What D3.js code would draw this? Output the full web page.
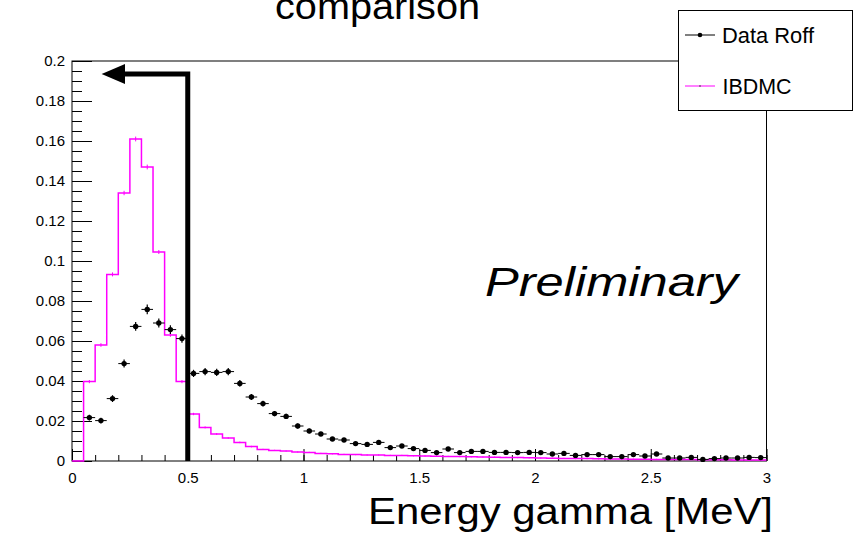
<!DOCTYPE html>
<html>
<head>
<meta charset="utf-8">
<script src="https://cdn.jsdelivr.net/npm/d3@7"></script>
<style>
  body { margin: 0; background: #fff; }
  svg { display: block; }
  text { font-family: "Liberation Sans", Arial, Helvetica, sans-serif; fill: #000; }
</style>
</head>
<body>
<svg id="chart"></svg>
<script>
// histogram binning: 60 bins of 0.05 MeV from 0 to 3
const binLow = 0;
const binWidth = 0.05;

// Data Roff (normalised), one value per bin; null = empty bin
const dataRoff = [
  null, 0.0217, 0.0202, 0.0312, 0.0487, 0.0673, 0.0758, 0.0690, 0.0657, 0.0612,
  0.0438, 0.0447, 0.0443, 0.0447, 0.0388, 0.0320, 0.0287, 0.0237, 0.0223, 0.0175,
  0.0150, 0.0135, 0.0110, 0.0105, 0.0087, 0.0083, 0.0093, 0.0067, 0.0075, 0.0062,
  0.0053, 0.0042, 0.0060, 0.0042, 0.0048, 0.0048, 0.0043, 0.0043, 0.0042, 0.0043,
  0.0042, 0.0035, 0.0038, 0.0028, 0.0032, 0.0032, 0.0022, 0.0022, 0.0032, 0.0025,
  0.0035, 0.0015, 0.0015, 0.0018, 0.0008, 0.0012, 0.0015, 0.0015, 0.0018, 0.0017
];
const dataErr = [
  0, 0.0014, 0.0014, 0.0017, 0.0020, 0.0022, 0.0024, 0.0022, 0.0022, 0.0021,
  0.0018, 0.0018, 0.0018, 0.0018, 0.0017, 0.0015, 0.0014, 0.0013, 0.0013, 0.0012,
  0.0011, 0.0010, 0.0009, 0.0009, 0.0008, 0.0008, 0.0008, 0.0007, 0.0007, 0.0007,
  0.0006, 0.0006, 0.0006, 0.0006, 0.0006, 0.0006, 0.0006, 0.0006, 0.0006, 0.0006,
  0.0006, 0.0005, 0.0005, 0.0005, 0.0005, 0.0005, 0.0004, 0.0004, 0.0005, 0.0004,
  0.0005, 0.0004, 0.0004, 0.0004, 0.0003, 0.0003, 0.0004, 0.0004, 0.0004, 0.0004
];

// IBD Monte Carlo (normalised)
const ibdmc = [
  0.0000, 0.0397, 0.0580, 0.0933, 0.1340, 0.1610, 0.1470, 0.1045, 0.0630, 0.0397,
  0.0235, 0.0168, 0.0135, 0.0115, 0.0093, 0.0072, 0.0058, 0.0053, 0.0050, 0.0045,
  0.0043, 0.0038, 0.0036, 0.0033, 0.0032, 0.0030, 0.0030, 0.0028, 0.0028, 0.0026,
  0.0025, 0.0024, 0.0023, 0.0022, 0.0021, 0.0020, 0.0019, 0.0018, 0.0017, 0.0016,
  0.0015, 0.0014, 0.0013, 0.0012, 0.0012, 0.0011, 0.0010, 0.0010, 0.0009, 0.0009,
  0.0008, 0.0008, 0.0007, 0.0007, 0.0006, 0.0006, 0.0006, 0.0005, 0.0005, 0.0005
];
const ibdmcErr = [
  0, 0.0008, 0.0009, 0.0010, 0.0011, 0.0012, 0.0012, 0.0010, 0.0009, 0.0008,
  0.0006, 0.0005, 0.0005, 0.0004, 0.0004, 0.0004, 0.0003, 0.0003, 0.0003, 0.0003,
  0.0003, 0.0003, 0.0003, 0.0003, 0.0003, 0.0003, 0.0003, 0.0003, 0.0003, 0.0003,
  0.0003, 0.0003, 0.0003, 0.0003, 0.0003, 0.0003, 0.0003, 0.0003, 0.0003, 0.0003,
  0.0003, 0.0003, 0.0003, 0.0003, 0.0003, 0.0003, 0.0003, 0.0003, 0.0003, 0.0003,
  0.0003, 0.0003, 0.0003, 0.0003, 0.0003, 0.0003, 0.0003, 0.0003, 0.0003, 0.0003
];

const xTicks = [0, 0.5, 1, 1.5, 2, 2.5, 3];
const xTickLabels = ["0", "0.5", "1", "1.5", "2", "2.5", "3"];
const xMinorTicks = d3.range(0, 31).map(i => i / 10);
const yTicks = [0, 0.02, 0.04, 0.06, 0.08, 0.1, 0.12, 0.14, 0.16, 0.18, 0.2];
const yTickLabels = ["0", "0.02", "0.04", "0.06", "0.08", "0.1", "0.12", "0.14", "0.16", "0.18", "0.2"];
const yMinorTicks = d3.range(0, 41).map(i => i * 0.005);

// cut marker: energy threshold and arrow pointing to lower energies
const cutEnergy = 0.5;
const cutArrowLevel = 0.1935;
const cutArrowShaft = 0.229;
const cutArrowTip = 0.128;

const width = 861, height = 534;
const margin = { left: 72, right: 94.5, top: 61, bottom: 73 };
const magenta = '#ff00ff';

const svg = d3.select('#chart').attr('width', width).attr('height', height);

const x = d3.scaleLinear().domain([0, 3]).range([margin.left, width - margin.right]);
const y = d3.scaleLinear().domain([0, 0.2]).range([height - margin.bottom, margin.top]);

// frame
svg.append('rect')
  .attr('x', x(0)).attr('y', y(0.2))
  .attr('width', x(3) - x(0)).attr('height', y(0) - y(0.2))
  .attr('fill', 'none').attr('stroke', '#000').attr('stroke-width', 1);

// minor ticks
svg.append('g')
  .attr('transform', `translate(0,${y(0)})`)
  .call(d3.axisBottom(x).tickValues(xMinorTicks).tickSize(-6).tickFormat(''))
  .call(g => g.select('.domain').remove());
svg.append('g')
  .attr('transform', `translate(${x(0)},0)`)
  .call(d3.axisLeft(y).tickValues(yMinorTicks).tickSize(-10).tickFormat(''))
  .call(g => g.select('.domain').remove());

// major ticks + labels
const xAxis = svg.append('g')
  .attr('transform', `translate(0,${y(0)})`)
  .call(d3.axisBottom(x).tickValues(xTicks).tickSize(-12).tickPadding(11)
    .tickFormat((d, i) => xTickLabels[i]));
xAxis.select('.domain').remove();
xAxis.selectAll('text').style('font-size', '15px').attr('fill', '#000');

const yAxis = svg.append('g')
  .attr('transform', `translate(${x(0)},0)`)
  .call(d3.axisLeft(y).tickValues(yTicks).tickSize(-20).tickPadding(7)
    .tickFormat((d, i) => yTickLabels[i]));
yAxis.select('.domain').remove();
yAxis.selectAll('text').style('font-size', '15px').attr('fill', '#000');
svg.selectAll('.tick line').attr('stroke', '#000');

// IBDMC step histogram
const stepPts = [];
ibdmc.forEach((v, i) => {
  const lo = binLow + i * binWidth;
  stepPts.push([lo, v], [lo + binWidth, v]);
});
const line = d3.line().x(d => x(d[0])).y(d => y(d[1]));
svg.append('path')
  .attr('d', line(stepPts))
  .attr('fill', 'none').attr('stroke', magenta).attr('stroke-width', 1.5);

svg.append('g').selectAll('line')
  .data(ibdmc.map((v, i) => ({ v, e: ibdmcErr[i], c: binLow + (i + 0.5) * binWidth })).filter(d => d.v > 0))
  .enter().append('line')
  .attr('x1', d => x(d.c)).attr('x2', d => x(d.c))
  .attr('y1', d => y(d.v - d.e)).attr('y2', d => y(d.v + d.e))
  .attr('stroke', magenta).attr('stroke-width', 1);

// Data Roff points with error bars
const pts = dataRoff.map((v, i) => ({ v, e: dataErr[i], lo: binLow + i * binWidth }))
  .filter(d => d.v !== null);
const pg = svg.append('g');
pg.selectAll('.hbar').data(pts).enter().append('line')
  .attr('x1', d => x(d.lo)).attr('x2', d => x(d.lo + binWidth))
  .attr('y1', d => y(d.v)).attr('y2', d => y(d.v))
  .attr('stroke', '#000').attr('stroke-width', 1);
pg.selectAll('.vbar').data(pts).enter().append('line')
  .attr('x1', d => x(d.lo + binWidth / 2)).attr('x2', d => x(d.lo + binWidth / 2))
  .attr('y1', d => y(d.v - d.e)).attr('y2', d => y(d.v + d.e))
  .attr('stroke', '#000').attr('stroke-width', 1.2);
pg.selectAll('circle').data(pts).enter().append('circle')
  .attr('cx', d => x(d.lo + binWidth / 2)).attr('cy', d => y(d.v))
  .attr('r', 2.7).attr('fill', '#000');

// cut arrow
svg.append('path')
  .attr('d', `M${x(cutEnergy)},${y(0)} L${x(cutEnergy)},${y(cutArrowLevel)} L${x(cutArrowShaft)},${y(cutArrowLevel)}`)
  .attr('fill', 'none').attr('stroke', '#000').attr('stroke-width', 5)
  .attr('stroke-linejoin', 'miter');
svg.append('path')
  .attr('d', `M${x(cutArrowTip)},${y(cutArrowLevel)} L${x(cutArrowShaft)},${y(cutArrowLevel) - 10} L${x(cutArrowShaft)},${y(cutArrowLevel) + 10} Z`)
  .attr('fill', '#000');

// texts
svg.append('text')
  .attr('x', 275).attr('y', 19)
  .attr('textLength', 205).attr('lengthAdjust', 'spacingAndGlyphs')
  .style('font-size', '36px').text('comparison');

svg.append('text')
  .attr('x', 485).attr('y', 296)
  .attr('textLength', 253).attr('lengthAdjust', 'spacingAndGlyphs')
  .style('font-size', '40px').style('font-style', 'italic').text('Preliminary');

svg.append('text')
  .attr('x', 368).attr('y', 524)
  .attr('textLength', 405).attr('lengthAdjust', 'spacingAndGlyphs')
  .style('font-size', '36px').text('Energy gamma [MeV]');

// legend
const lg = svg.append('g');
lg.append('rect')
  .attr('x', 678.5).attr('y', 10.5).attr('width', 174).attr('height', 100)
  .attr('fill', '#fff').attr('stroke', '#000').attr('stroke-width', 1);
lg.append('line').attr('x1', 685).attr('x2', 715).attr('y1', 35).attr('y2', 35)
  .attr('stroke', '#000').attr('stroke-width', 1);
lg.append('circle').attr('cx', 700).attr('cy', 35).attr('r', 2.3).attr('fill', '#000');
lg.append('text').attr('x', 722).attr('y', 43)
  .attr('textLength', 92).attr('lengthAdjust', 'spacingAndGlyphs')
  .style('font-size', '22px').text('Data Roff');
lg.append('line').attr('x1', 685).attr('x2', 715).attr('y1', 86).attr('y2', 86)
  .attr('stroke', magenta).attr('stroke-width', 1);
lg.append('circle').attr('cx', 700).attr('cy', 86).attr('r', 0.8).attr('fill', '#333');
lg.append('text').attr('x', 722.5).attr('y', 93.5)
  .attr('textLength', 69).attr('lengthAdjust', 'spacingAndGlyphs')
  .style('font-size', '22px').text('IBDMC');
</script>
</body>
</html>
